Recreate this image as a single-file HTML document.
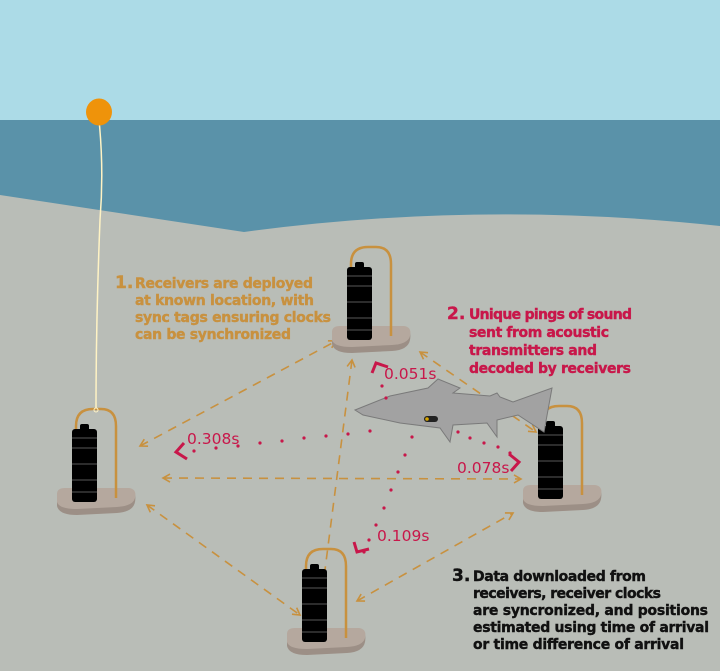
<!DOCTYPE html>
<html><head><style>body{margin:0;background:#b9bdb7}svg{display:block}</style></head>
<body>
<svg width="720" height="671" viewBox="0 0 720 671" xmlns="http://www.w3.org/2000/svg">
<defs>
<g id="rcv">
 <path d="M0 12 Q0 6 8 6 L72 6 Q80 7 78 18 Q76 28 60 29 L20 31 Q2 31 0 22 Z" fill="#9c8f86"/>
 <path d="M0 10 Q0 4 8 4 L72 4 Q80 5 78 14 Q76 22 60 23 L20 25 Q2 25 0 18 Z" fill="#b5a89e"/>
 <path d="M19 14 L19 -58 Q19 -75 36 -75 L44 -75 Q59 -75 59 -58 L59 14" fill="none" stroke="#c8913f" stroke-width="2.5"/>
 <rect x="23" y="-60" width="9" height="8" rx="2" fill="#000"/>
 <rect x="15" y="-55" width="25" height="73" rx="3" fill="#000"/>
 <g stroke="#3a3a3a" stroke-width="1.5"><line x1="15" y1="-46" x2="40" y2="-46"/><line x1="15" y1="-36" x2="40" y2="-36"/><line x1="15" y1="-20" x2="40" y2="-20"/><line x1="15" y1="-4" x2="40" y2="-4"/><line x1="15" y1="8" x2="40" y2="8"/></g>
</g>
<marker id="ah" markerWidth="10" markerHeight="10" refX="8" refY="5" orient="auto-start-reverse" markerUnits="userSpaceOnUse"><path d="M1 1 L8 5 L1 9" fill="none" stroke="#c8913f" stroke-width="1.6"/></marker>
</defs>
<rect width="720" height="120" fill="#acdbe7"/>
<rect y="120" width="720" height="120" fill="#5a92a9"/>
<path d="M0 195 L244 232 Q480 200 720 226 L720 671 L0 671 Z" fill="#b9bdb7"/>
<path d="M99 120 Q104 170 100 220 Q96 320 96 410" fill="none" stroke="#fff3c4" stroke-width="1.5"/>
<ellipse cx="99" cy="112" rx="13" ry="13.5" fill="#ef930a"/>

<g stroke="#c8913f" stroke-width="1.6" stroke-dasharray="9 7" fill="none" marker-start="url(#ah)" marker-end="url(#ah)">
 <line x1="140" y1="446" x2="336" y2="341"/>
 <line x1="163" y1="478" x2="521" y2="479"/>
 <line x1="147" y1="505" x2="300" y2="615"/>
 <line x1="352" y1="360" x2="318" y2="624"/>
 <line x1="420" y1="352" x2="536" y2="432"/>
 <line x1="357" y1="601" x2="513" y2="513"/>
</g>

<use href="#rcv" x="332" y="322"/>
<use href="#rcv" x="57" y="484"/>
<use href="#rcv" x="523" y="481"/>
<use href="#rcv" x="287" y="624"/>
<circle cx="96" cy="410" r="2" fill="none" stroke="#fff3c4" stroke-width="1"/>

<path d="M355 410 L390 396 L428 388 L438 379 L460 388 L453 393 L490 396 L497 393 L500 397 L513 402 L552 388 L548 410 L544 432 L518 415 L497 420 L497 437 L487 423 L453 425 L450 442 L440 428 L400 423 L363 415 Z" fill="#a2a2a2" stroke="#7a7a7a" stroke-width="1"/>
<rect x="424" y="416" width="14" height="6" rx="3" fill="#222"/>
<circle cx="427" cy="419" r="1.8" fill="#d9a600"/>

<g fill="#c8174a">
 <circle cx="382" cy="386" r="1.6"/><circle cx="386" cy="398" r="1.6"/>
 <circle cx="370" cy="431" r="1.6"/><circle cx="348" cy="434" r="1.6"/><circle cx="326" cy="436" r="1.6"/><circle cx="304" cy="438" r="1.6"/><circle cx="282" cy="441" r="1.6"/><circle cx="260" cy="443" r="1.6"/><circle cx="238" cy="446" r="1.6"/><circle cx="216" cy="448" r="1.6"/><circle cx="194" cy="451" r="1.6"/>
 <circle cx="458" cy="432" r="1.6"/><circle cx="470" cy="438" r="1.6"/><circle cx="484" cy="443" r="1.6"/><circle cx="498" cy="447" r="1.6"/><circle cx="510" cy="453" r="1.6"/>
 <circle cx="412" cy="437" r="1.6"/><circle cx="405" cy="455" r="1.6"/><circle cx="398" cy="472" r="1.6"/><circle cx="391" cy="490" r="1.6"/><circle cx="384" cy="508" r="1.6"/><circle cx="376" cy="525" r="1.6"/><circle cx="369" cy="540" r="1.6"/><circle cx="364" cy="552" r="1.6"/>
</g>
<g fill="none" stroke="#c8174a" stroke-width="3">
 <path d="M184 443 L176 452 L187 459"/>
 <path d="M372 373 L376 363 L388 367"/>
 <path d="M509 454 L519 462 L511 471"/>
 <path d="M354 542 L357 552 L369 549"/>
</g>
<g font-family="'DejaVu Sans', sans-serif" font-size="15.5" fill="#c8174a">
 <text x="384" y="379">0.051s</text>
 <text x="187" y="444">0.308s</text>
 <text x="457" y="473">0.078s</text>
 <text x="377" y="541">0.109s</text>
</g>

<g font-family="'DejaVu Sans', sans-serif" font-weight="bold" font-size="14" stroke-width="0.4">
 <g fill="#c8913f" stroke="#c8913f">
  <text x="115" y="288" font-size="17">1.</text>
  <text x="135" y="288" textLength="178">Receivers are deployed</text>
  <text x="135" y="305" textLength="179">at known location, with</text>
  <text x="135" y="322" textLength="196">sync tags ensuring clocks</text>
  <text x="135" y="339" textLength="156">can be synchronized</text>
 </g>
 <g fill="#c8174a" stroke="#c8174a">
  <text x="447" y="319" font-size="17">2.</text>
  <text x="469" y="319" textLength="163">Unique pings of sound</text>
  <text x="469" y="337" textLength="140">sent from acoustic</text>
  <text x="469" y="355" textLength="128">transmitters and</text>
  <text x="469" y="373" textLength="162">decoded by receivers</text>
 </g>
 <g fill="#111" stroke="#111">
  <text x="452" y="581" font-size="17">3.</text>
  <text x="473" y="581" textLength="173">Data downloaded from</text>
  <text x="473" y="598" textLength="188">receivers, receiver clocks</text>
  <text x="473" y="615" textLength="235">are syncronized, and positions</text>
  <text x="473" y="632" textLength="236">estimated using time of arrival</text>
  <text x="473" y="649" textLength="211">or time difference of arrival</text>
 </g>
</g>
</svg>
</body></html>
